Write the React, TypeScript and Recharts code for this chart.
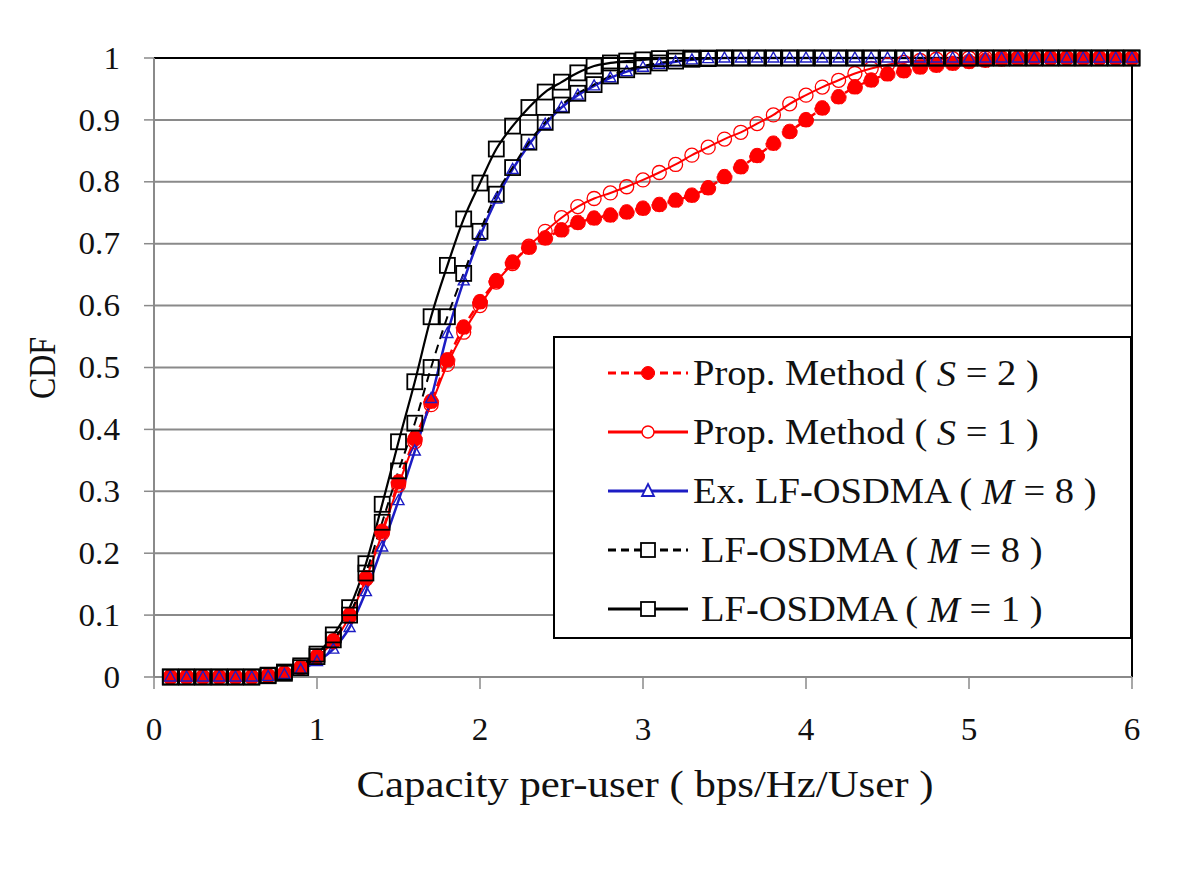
import { LineChart, Line, XAxis, YAxis, CartesianGrid, Legend, ReferenceLine, Label } from "recharts";

// capacity per-user (bps/Hz/User), one marker every 0.1
const capacity = [
  0.1, 0.2, 0.3, 0.4, 0.5, 0.6, 0.7, 0.8, 0.9, 1.0,
  1.1, 1.2, 1.3, 1.4, 1.5, 1.6, 1.7, 1.8, 1.9, 2.0,
  2.1, 2.2, 2.3, 2.4, 2.5, 2.6, 2.7, 2.8, 2.9, 3.0,
  3.1, 3.2, 3.3, 3.4, 3.5, 3.6, 3.7, 3.8, 3.9, 4.0,
  4.1, 4.2, 4.3, 4.4, 4.5, 4.6, 4.7, 4.8, 4.9, 5.0,
  5.1, 5.2, 5.3, 5.4, 5.5, 5.6, 5.7, 5.8, 5.9, 6.0,
];

// Prop. Method (S = 2)
const propS2 = [
  0, 0, 0, 0, 0, 0, 0.002, 0.006, 0.015, 0.033,
  0.058, 0.1, 0.16, 0.235, 0.315, 0.385, 0.445, 0.512, 0.565, 0.606,
  0.64, 0.67, 0.694, 0.709, 0.722, 0.734, 0.741, 0.746, 0.751, 0.757,
  0.763, 0.77, 0.778, 0.79, 0.808, 0.824, 0.842, 0.862, 0.881, 0.9,
  0.919, 0.937, 0.953, 0.964, 0.974, 0.979, 0.985, 0.988, 0.991, 0.994,
  0.996, 0.998, 0.999, 1, 1, 1, 1, 1, 1, 1,
];

// Prop. Method (S = 1)
const propS1 = [
  0, 0, 0, 0, 0, 0, 0.002, 0.006, 0.015, 0.032,
  0.057, 0.098, 0.158, 0.232, 0.31, 0.38, 0.44, 0.505, 0.557, 0.6,
  0.638, 0.668, 0.696, 0.72, 0.742, 0.76, 0.773, 0.782, 0.792, 0.803,
  0.815, 0.828, 0.843, 0.856, 0.869, 0.88, 0.894, 0.908, 0.926, 0.94,
  0.953, 0.964, 0.975, 0.983, 0.989, 0.993, 0.996, 0.998, 0.999, 1,
  1, 1, 1, 1, 1, 1, 1, 1, 1, 1,
];

// Ex. LF-OSDMA (M = 8)
const exLfM8 = [
  0, 0, 0, 0, 0, 0, 0.001, 0.004, 0.012, 0.025,
  0.045, 0.08, 0.138, 0.21, 0.285, 0.365, 0.45, 0.555, 0.64, 0.712,
  0.772, 0.82, 0.86, 0.893, 0.92, 0.94, 0.955, 0.968, 0.978, 0.985,
  0.99, 0.994, 0.997, 0.999, 1, 1, 1, 1, 1, 1,
  1, 1, 1, 1, 1, 1, 1, 1, 1, 1,
  1, 1, 1, 1, 1, 1, 1, 1, 1, 1,
];

// LF-OSDMA (M = 8)
const lfM8 = [
  0, 0, 0, 0, 0, 0, 0.002, 0.006, 0.015, 0.033,
  0.06, 0.1, 0.168, 0.25, 0.333, 0.41, 0.5, 0.582, 0.652, 0.72,
  0.78, 0.823, 0.864, 0.896, 0.924, 0.943, 0.957, 0.971, 0.981, 0.987,
  0.992, 0.995, 0.998, 0.999, 1, 1, 1, 1, 1, 1,
  1, 1, 1, 1, 1, 1, 1, 1, 1, 1,
  1, 1, 1, 1, 1, 1, 1, 1, 1, 1,
];

// LF-OSDMA (M = 1)
const lfM1 = [
  0, 0, 0, 0, 0, 0, 0.003, 0.008, 0.018, 0.037,
  0.068, 0.112, 0.183, 0.279, 0.38, 0.477, 0.582, 0.665, 0.74, 0.798,
  0.853, 0.89, 0.92, 0.945, 0.961, 0.976, 0.987, 0.992, 0.995, 0.997,
  0.999, 1, 1, 1, 1, 1, 1, 1, 1, 1,
  1, 1, 1, 1, 1, 1, 1, 1, 1, 1,
  1, 1, 1, 1, 1, 1, 1, 1, 1, 1,
];

const xTicks = [0, 1, 2, 3, 4, 5, 6];
const yTicks = [0, 0.1, 0.2, 0.3, 0.4, 0.5, 0.6, 0.7, 0.8, 0.9, 1];

const data = capacity.map((x, i) => ({
  x,
  s2: propS2[i],
  s1: propS1[i],
  ex8: exLfM8[i],
  lf8: lfM8[i],
  lf1: lfM1[i],
}));

const RED = "#ff0000";
const BLUE = "#1c1cc4";
const BLACK = "#000000";
const GRID = "#8a8a8a";
const FONT = "'Liberation Serif', 'DejaVu Serif', serif";
const SX = 1.07; // the original picture is stretched sideways a little

const Square = ({ cx, cy }: any) =>
  cx == null ? null : (
    <rect x={cx - 7.5} y={cy - 7.5} width={15} height={15} fill="none" stroke={BLACK} strokeWidth={1.8} />
  );

const Triangle = ({ cx, cy }: any) =>
  cx == null ? null : (
    <path d={`M${cx},${cy - 6} L${cx + 5.5},${cy + 4} L${cx - 5.5},${cy + 4} Z`} fill="none" stroke={BLUE} strokeWidth={1.4} />
  );

const YTick = ({ x, y, payload }: any) => (
  <text
    transform={`translate(${x},${y}) scale(${SX},1)`}
    textAnchor="end"
    dominantBaseline="central"
    fontFamily={FONT}
    fontSize={31}
    fill="#111"
  >
    {String(Math.round(payload.value * 10) / 10)}
  </text>
);

const XTick = ({ x, y, payload }: any) => (
  <text
    transform={`translate(${x},${y + 51}) scale(${SX},1)`}
    textAnchor="middle"
    fontFamily={FONT}
    fontSize={31}
    fill="#111"
  >
    {payload.value}
  </text>
);

const rows = [
  { pre: "Prop. Method ( ", v: "S", post: " = 2 )", color: RED, dash: "8 5", mark: "fill" },
  { pre: "Prop. Method ( ", v: "S", post: " = 1 )", color: RED, dash: undefined, mark: "open" },
  { pre: "Ex. LF-OSDMA ( ", v: "M", post: " = 8 )", color: BLUE, dash: undefined, mark: "tri" },
  { pre: "LF-OSDMA ( ", v: "M", post: " = 8 )", color: BLACK, dash: "8 5", mark: "sq" },
  { pre: "LF-OSDMA ( ", v: "M", post: " = 1 )", color: BLACK, dash: undefined, mark: "sq" },
];

const LegendBox = () => (
  <svg width={580} height={304} style={{ display: "block" }}>
    <rect x={1} y={1} width={577} height={301} fill="#fff" stroke={BLACK} strokeWidth={2} />
    {rows.map((r, i) => {
      const y = 37 + i * 59;
      return (
        <g key={i}>
          <line x1={55} x2={135} y1={y} y2={y} stroke={r.color} strokeWidth={3} strokeDasharray={r.dash} />
          {r.mark === "fill" && <circle cx={95} cy={y} r={6.5} fill={RED} stroke={RED} />}
          {r.mark === "open" && <circle cx={95} cy={y} r={6} fill="#fff" stroke={RED} strokeWidth={1.4} />}
          {r.mark === "tri" && (
            <path d={`M95,${y - 7} L101,${y + 5} L89,${y + 5} Z`} fill="#fff" stroke={BLUE} strokeWidth={1.8} />
          )}
          {r.mark === "sq" && <rect x={88} y={y - 7} width={14} height={14} fill="#fff" stroke={BLACK} strokeWidth={1.8} />}
          <text
            transform={`translate(${i >= 3 ? 148 : 140},${y}) scale(${SX},1)`}
            dominantBaseline="central"
            fontFamily={FONT}
            fontSize={36}
            fill="#111"
          >
            {r.pre}
            <tspan fontStyle="italic">{r.v}</tspan>
            {r.post}
          </text>
        </g>
      );
    })}
  </svg>
);

export default function App() {
  return (
    <div style={{ width: 1184, height: 856, background: "#fff" }}>
      <LineChart
        width={1184}
        height={856}
        data={data}
        margin={{ top: 50, right: 60, bottom: 87, left: 46 }}
      >
        <CartesianGrid vertical={false} stroke={GRID} strokeWidth={2} />
        <XAxis
          dataKey="x"
          type="number"
          domain={[0, 6]}
          ticks={xTicks}
          height={100}
          tickSize={12}
          tickMargin={0}
          tick={<XTick />}
          axisLine={{ stroke: GRID, strokeWidth: 2 }}
          tickLine={{ stroke: GRID, strokeWidth: 1.5 }}
        >
          <Label
            content={({ viewBox }: any) => (
              <text
                x={viewBox.x + viewBox.width / 2 + 2}
                y={viewBox.y + 120}
                textAnchor="middle"
                fontFamily={FONT}
                fontSize={38}
                textLength={577}
                lengthAdjust="spacingAndGlyphs"
                fill="#111"
              >
                Capacity per-user ( bps/Hz/User )
              </text>
            )}
          />
        </XAxis>
        <YAxis
          type="number"
          domain={[0, 1]}
          ticks={yTicks}
          width={100}
          tickSize={10}
          tickMargin={24}
          tick={<YTick />}
          axisLine={{ stroke: GRID, strokeWidth: 2 }}
          tickLine={{ stroke: GRID, strokeWidth: 1.5 }}
        >
          <Label
            content={() => (
              <text
                transform={`translate(35,360) scale(1.2,1) rotate(-90)`}
                textAnchor="middle"
                dominantBaseline="central"
                fontFamily={FONT}
                fontSize={32}
                fill="#111"
              >
                CDF
              </text>
            )}
          />
        </YAxis>
        <ReferenceLine y={1} stroke={BLACK} strokeWidth={2} />
        <ReferenceLine x={6} stroke={BLACK} strokeWidth={2} />
        <Line
          type="monotone"
          dataKey="s2"
          stroke={RED}
          strokeWidth={2.5}
          strokeDasharray="9 6"
          dot={{ r: 7.5, fill: RED, stroke: RED, strokeWidth: 1 }}
          isAnimationActive={false}
        />
        <Line
          type="monotone"
          dataKey="s1"
          stroke={RED}
          strokeWidth={2}
          dot={{ r: 7, fill: "none", stroke: RED, strokeWidth: 1.3 }}
          isAnimationActive={false}
        />
        <Line
          type="monotone"
          dataKey="ex8"
          stroke={BLUE}
          strokeWidth={2.5}
          dot={<Triangle />}
          isAnimationActive={false}
        />
        <Line
          type="monotone"
          dataKey="lf8"
          stroke={BLACK}
          strokeWidth={2}
          strokeDasharray="9 6"
          dot={<Square />}
          isAnimationActive={false}
        />
        <Line
          type="monotone"
          dataKey="lf1"
          stroke={BLACK}
          strokeWidth={2.2}
          dot={<Square />}
          isAnimationActive={false}
        />
        <Legend
          layout="vertical"
          align="center"
          verticalAlign="middle"
          content={() => <LegendBox />}
          wrapperStyle={{ left: 545, top: 328, width: 580, height: 304 }}
        />
      </LineChart>
    </div>
  );
}
